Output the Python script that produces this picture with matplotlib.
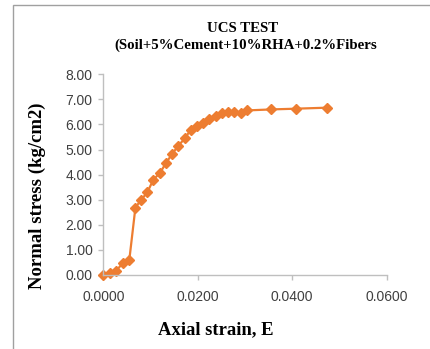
import matplotlib
matplotlib.use("Agg")
import matplotlib.pyplot as plt
from matplotlib.patches import Rectangle

strain = [0.0, 0.0015, 0.0027, 0.0041, 0.0055, 0.0068, 0.0080, 0.0093, 0.0106,
          0.0120, 0.0133, 0.0146, 0.0159, 0.0173, 0.0185, 0.0198, 0.0211, 0.0224,
          0.0238, 0.0251, 0.0263, 0.0277, 0.0291, 0.0304, 0.0356, 0.0409, 0.0474]
stress = [0.00, 0.07, 0.16, 0.47, 0.59, 2.69, 2.99, 3.29, 3.80,
          4.07, 4.47, 4.83, 5.16, 5.45, 5.79, 5.93, 6.07, 6.21,
          6.32, 6.45, 6.49, 6.49, 6.47, 6.56, 6.60, 6.63, 6.67]

x_ticks = [0.0, 0.02, 0.04, 0.06]
y_ticks = [0, 1, 2, 3, 4, 5, 6, 7, 8]

ORANGE = "#ED7D31"
AXIS_GRAY = "#BFBFBF"
SERIF = "Liberation Serif"
SANS = "Liberation Sans"

fig = plt.figure(figsize=(4.30, 3.49), dpi=100)
fig.patch.set_facecolor("white")

# outer chart frame (only top/left edges visible in the reference)
fig.add_artist(Rectangle((13 / 430, -0.1), 1.2, 1 - 5 / 349 + 0.1,
                         transform=fig.transFigure, fill=False,
                         edgecolor="#A0A0A0", linewidth=1.0))

ax = fig.add_axes([103.3 / 430, 1 - 275 / 349, (386.7 - 103.3) / 430, (275 - 74.3) / 349])
ax.plot(strain, stress, color=ORANGE, linewidth=1.6, marker="D",
        markersize=4.6, markerfacecolor=ORANGE, markeredgecolor=ORANGE, clip_on=False)

ax.set_xlim(0, 0.06)
ax.set_ylim(0, 8)
ax.set_xticks(x_ticks)
ax.set_yticks(y_ticks)
ax.set_xticklabels([f"{v:.4f}" for v in x_ticks], family=SANS, fontsize=10, color="#404040")
ax.set_yticklabels([f"{v:.2f}" for v in y_ticks], family=SANS, fontsize=10, color="#404040")

for side in ("top", "right"):
    ax.spines[side].set_visible(False)
for side in ("left", "bottom"):
    ax.spines[side].set_color(AXIS_GRAY)
    ax.spines[side].set_linewidth(1.0)
ax.tick_params(axis="both", direction="out", length=3.6, width=1.0, color=AXIS_GRAY)
ax.tick_params(axis="y", pad=4)
ax.tick_params(axis="x", pad=7)

fig.text(243 / 430, 1 - 29 / 349, "UCS TEST", family=SERIF, fontweight="bold",
         fontsize=10.7, ha="center", va="center")
fig.text(246 / 430, 1 - 45 / 349, "(Soil+5%Cement+10%RHA+0.2%Fibers", family=SERIF,
         fontweight="bold", fontsize=10.7, ha="center", va="center")
fig.text(216 / 430, 1 - 330 / 349, "Axial strain, E", family=SERIF, fontweight="bold",
         fontsize=13.4, ha="center", va="center")
fig.text(37.5 / 430, 1 - 196 / 349, "Normal stress (kg/cm2)", family=SERIF,
         fontweight="bold", fontsize=13.5, ha="center", va="center", rotation=90)

fig.savefig("out.png", dpi=100)
